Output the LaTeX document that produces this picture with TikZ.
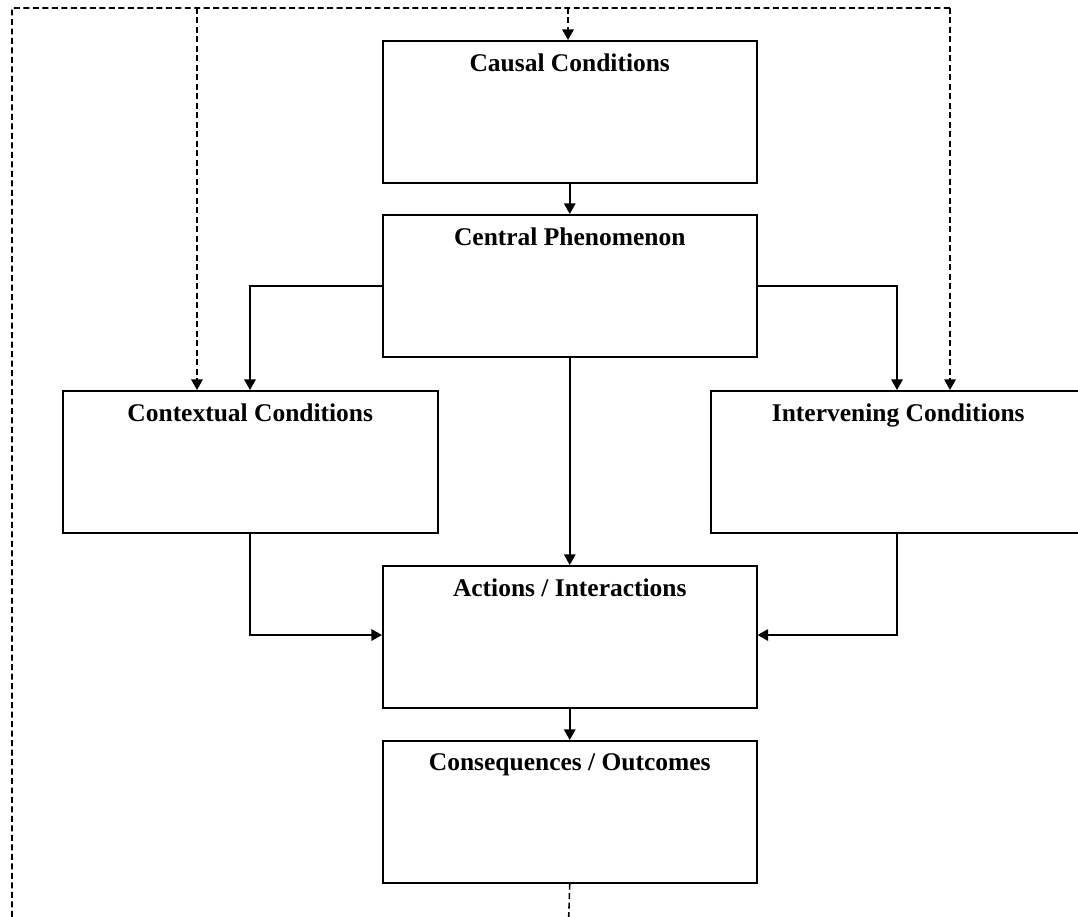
\documentclass[tikz,border=0pt]{standalone}
\usepackage{fontspec}
\setmainfont{Liberation Serif}
\usetikzlibrary{arrows.meta,positioning}
\begin{document}
\begin{tikzpicture}[x=0.02cm,y=-0.02cm,
  box/.style={draw=black,line width=0.9pt,minimum width=7.48cm,minimum height=2.84cm,inner sep=0pt,anchor=north west},
  title/.style={font=\bfseries\fontsize{14.5}{17}\selectfont,inner sep=0pt,anchor=north},
  link/.style={draw=black,line width=0.9pt,-{Triangle[width=6.5pt,length=6pt]}},
  feedback/.style={draw=black,line width=0.9pt,dash pattern=on 3.4pt off 2pt},
  fbarrow/.style={feedback,-{Triangle[width=6.5pt,length=6pt]}}]
\useasboundingbox (0,0) rectangle (1078,916);
\clip (0,0) rectangle (1078,916);

% boxes
\node[box] (causal) at (382,40) {};
\node[box] (central) at (382,214) {};
\node[box,minimum width=7.5cm] (context) at (62,390) {};
\node[box,minimum width=7.5cm] (interv) at (710,390) {};
\node[box] (actions) at (382,565) {};
\node[box] (conseq) at (382,740) {};

% titles
\node[title] (tcausal) at ([yshift=-0.26cm]causal.north) {Causal Conditions};
\node[title] (tcentral) at ([yshift=-0.26cm]central.north) {Central Phenomenon};
\node[title] (tcontext) at ([yshift=-0.26cm]context.north) {Contextual Conditions};
\node[title] (tinterv) at ([yshift=-0.26cm]interv.north) {Intervening Conditions};
\node[title] (tactions) at ([yshift=-0.26cm]actions.north) {Actions / Interactions};
\node[title] (tconseq) at ([yshift=-0.26cm]conseq.north) {Consequences / Outcomes};

% solid connectors
\draw[link] (causal.south) -- (central.north);
\draw[link] (central.west |- 0,286) -| (context.north -| 250,0);
\draw[link] (central.east |- 0,286) -| (interv.north -| 897,0);
\draw[link] (central.south) -- (actions.north);
\draw[link] (context.south -| 250,0) |- (actions.west |- 0,635);
\draw[link] (interv.south -| 897,0) |- (actions.east |- 0,635);
\draw[link] (actions.south) -- (conseq.north);

% feedback loop (dashed)
\coordinate (below) at (568,940);
\coordinate (topleft) at (12,8);
\coordinate (topright) at (950,8);
\coordinate (tapctx) at (197,8);
\coordinate (tapcausal) at (568,8);
\draw[feedback] (conseq.south) -- (below) -| (topleft) -- (topright);
\draw[fbarrow] (topright) -- (interv.north -| topright);
\draw[fbarrow] (tapctx) -- (context.north -| tapctx);
\draw[fbarrow] (tapcausal) -- (causal.north -| tapcausal);
\end{tikzpicture}
\end{document}
